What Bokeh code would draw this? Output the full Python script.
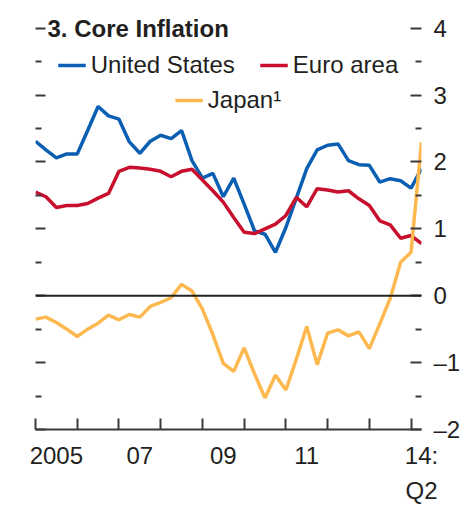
from bokeh.plotting import figure
from bokeh.models import (Range1d, LinearAxis, FixedTicker, Span, Legend,
                          LegendItem, Label, ColumnDataSource)
from bokeh.embed import file_html
from bokeh.resources import INLINE

# ---------------- data (quarterly, 2005Q1 - 2014Q2), percent ----------------
quarters = [f"{y}Q{q}" for y in range(2005, 2015) for q in range(1, 5)][:38]

united_states = [2.31, 2.18, 2.06, 2.12, 2.12, 2.47, 2.83, 2.69, 2.64, 2.30,
                 2.13, 2.31, 2.40, 2.35, 2.47, 2.02, 1.76, 1.83, 1.48, 1.76,
                 1.37, 0.97, 0.92, 0.65, 1.02, 1.46, 1.90, 2.18, 2.25, 2.27,
                 2.02, 1.96, 1.95, 1.70, 1.75, 1.72, 1.61, 1.90]

euro_area = [1.55, 1.48, 1.32, 1.35, 1.35, 1.38, 1.46, 1.53, 1.86, 1.92,
             1.91, 1.89, 1.86, 1.78, 1.86, 1.89, 1.73, 1.57, 1.40, 1.17,
             0.95, 0.93, 1.00, 1.07, 1.20, 1.47, 1.33, 1.60, 1.58, 1.55,
             1.57, 1.45, 1.35, 1.12, 1.06, 0.86, 0.90, 0.78]

japan = [-0.35, -0.32, -0.40, -0.50, -0.61, -0.50, -0.41, -0.29, -0.36, -0.28,
         -0.32, -0.16, -0.10, -0.03, 0.17, 0.07, -0.20, -0.58, -1.01, -1.13,
         -0.78, -1.17, -1.53, -1.19, -1.41, -0.95, -0.46, -1.03, -0.56, -0.51,
         -0.60, -0.54, -0.79, -0.42, -0.04, 0.50, 0.65, 2.30]

year_ticks = [2005, 2006, 2007, 2008, 2009, 2010, 2011, 2012, 2013, 2014]
x_label_pos = [2005.5, 2007.5, 2009.5, 2011.5, 2014.25]
x_label_txt = ["2005", "07", "09", "11", "14:\nQ2"]
y_major = [-2, -1, 0, 1, 2, 3, 4]
y_minor = [-1.5, -0.5, 0.5, 1.5, 2.5, 3.5]
y_label_txt = ["\u20132", "\u20131", "0", "1", "2", "3", "4"]

# ---------------- styling ----------------
FONT = "Liberation Sans"
TXT = "#231f20"
AX = "#3a3a3a"
FS = "24px"

t = [int(s[:4]) + (int(s[-1]) - 1) / 4 for s in quarters]
src = ColumnDataSource(dict(t=t, us=united_states, eu=euro_area, jp=japan))

p = figure(width=466, height=508,
           x_range=Range1d(2005, 2014.25), y_range=Range1d(-2, 4.25),
           output_backend="svg", toolbar_location=None,
           min_border_left=35, min_border_top=11, min_border_right=45,
           min_border_bottom=79, outline_line_color=None,
           background_fill_color="white", border_fill_color="white")
p.grid.visible = False

r_us = p.line("t", "us", source=src, line_color="#0b5fb3", line_width=3.5)
r_eu = p.line("t", "eu", source=src, line_color="#c8102e", line_width=3.5)
r_jp = p.line("t", "jp", source=src, line_color="#fdb94f", line_width=3.5)

p.add_layout(Span(location=0, dimension="width", line_color="#222222",
                  line_width=2))

# bottom axis
xa = p.xaxis[0]
xa.ticker = FixedTicker(ticks=x_label_pos, minor_ticks=year_ticks)
xa.major_label_overrides = dict(zip(x_label_pos, x_label_txt))
xa.major_tick_in = 0
xa.major_tick_out = 0
xa.minor_tick_in = 11
xa.minor_tick_out = 0
xa.minor_tick_line_width = 2
xa.minor_tick_line_color = AX
xa.axis_line_width = 2
xa.axis_line_color = AX
xa.major_label_standoff = 12
xa.major_label_text_font = FONT
xa.major_label_text_font_size = FS
xa.major_label_text_color = TXT
xa.major_label_text_line_height = 1.3

# left axis (ticks only)
ya = p.yaxis[0]
ya.ticker = FixedTicker(ticks=y_major, minor_ticks=y_minor)
ya.axis_line_color = None
ya.major_tick_in = 10
ya.major_tick_out = 0
ya.minor_tick_in = 6
ya.minor_tick_out = 0
ya.major_tick_line_width = 2
ya.minor_tick_line_width = 2
ya.major_tick_line_color = AX
ya.minor_tick_line_color = AX
ya.major_label_text_color = None
ya.major_label_text_font_size = "1px"
ya.major_label_standoff = 0

# right axis with labels
ra = LinearAxis(ticker=FixedTicker(ticks=y_major, minor_ticks=y_minor))
ra.major_label_overrides = dict(zip(y_major, y_label_txt))
ra.axis_line_color = None
ra.major_tick_in = 11
ra.major_tick_out = 0
ra.minor_tick_in = 6
ra.minor_tick_out = 0
ra.major_tick_line_width = 2
ra.minor_tick_line_width = 2
ra.major_tick_line_color = AX
ra.minor_tick_line_color = AX
ra.major_label_standoff = 12
ra.major_label_text_font = FONT
ra.major_label_text_font_size = FS
ra.major_label_text_color = TXT
p.add_layout(ra, "right")

# title inside the frame
p.add_layout(Label(x=2005, y=4, x_offset=12, text="3. Core Inflation",
                   text_font=FONT, text_font_style="bold", text_font_size=FS,
                   text_color=TXT, text_baseline="middle"))

# legends
common = dict(location="top_center", label_text_font=FONT,
              label_text_font_size=FS, label_text_color=TXT, glyph_width=28,
              glyph_height=20, label_height=20, label_standoff=5, spacing=25,
              padding=0, border_line_color=None, background_fill_alpha=0)
leg1 = Legend(items=[LegendItem(label="United States", renderers=[r_us]),
                     LegendItem(label="Euro area", renderers=[r_eu])],
              orientation="horizontal", margin=40, **common)
leg2 = Legend(items=[LegendItem(label="Japan\u00b9", renderers=[r_jp])],
              orientation="horizontal", margin=75, **common)
p.add_layout(leg1)
p.add_layout(leg2)

open("out.html", "w").write(file_html(p, INLINE))
